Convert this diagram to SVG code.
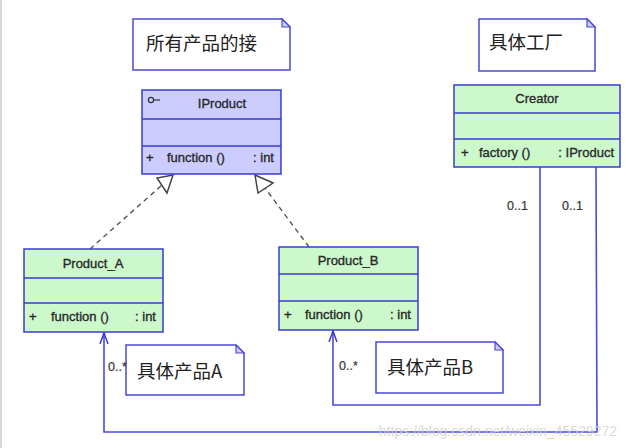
<svg xmlns="http://www.w3.org/2000/svg" width="626" height="448" viewBox="0 0 626 448">
<style>
.cls{fill:#ccf8cc;stroke:#3b3bd0;stroke-width:1.5}
.ifc{fill:#ccccff;stroke:#3b3bd0;stroke-width:1.5}
.note{fill:#ffffff;stroke:#4a4ad0;stroke-width:1.5}
.fold{fill:#ccccff;stroke:#4a4ad0;stroke-width:1.2}
.t{font-family:"Liberation Sans",Arial,sans-serif;font-size:13px;fill:#2a2a2a;stroke:#2a2a2a;stroke-width:0.35}
.cjk{font-family:"Noto Sans CJK SC","Liberation Sans",sans-serif;font-size:18.5px;fill:#222}
.m{font-family:"Liberation Sans",Arial,sans-serif;font-size:12.5px;fill:#333;stroke:#333;stroke-width:0.2}
.conn{fill:none;stroke:#4a4ae0;stroke-width:1.6}
.dash{fill:none;stroke:#555;stroke-width:1.4;stroke-dasharray:5,4}
.tri{fill:#ffffff;stroke:#444;stroke-width:1.5}
</style>
<defs>
<marker id="open" viewBox="0 0 12 12" refX="11" refY="6" markerWidth="12" markerHeight="12" markerUnits="userSpaceOnUse" orient="auto">
<path d="M0,2 L11,6 L0,10" fill="none" stroke="#3333cc" stroke-width="1.4"/>
</marker>
</defs>
<rect x="0" y="0" width="626" height="448" fill="#ffffff"/>
<line x1="1" y1="0" x2="1" y2="448" stroke="#d8d8d8" stroke-width="2"/>

<g id="connectors">
<path class="conn" d="M596,167 L597,432 L104,432 L104,333" marker-end="url(#open)"/>
<path class="conn" d="M540,167 L540,405 L333,405 L333,331" marker-end="url(#open)"/>
<line class="dash" x1="90" y1="249" x2="162" y2="185"/>
<polygon class="tri" points="173,175 157,178 167,193"/>
<line class="dash" x1="309" y1="247" x2="265" y2="188"/>
<polygon class="tri" points="255,175 273,183 258,193"/>
</g>

<g id="note-interface">
<path class="note" d="M133,19 L282,19 L290,27 L290,70 L133,70 Z"/>
<path class="fold" d="M282,19 L282,27 L290,27 Z"/>
<text class="cjk" x="146" y="50">所有产品的接</text>
</g>

<g id="note-factory">
<path class="note" d="M479,19 L587,19 L595,27 L595,71 L479,71 Z"/>
<path class="fold" d="M587,19 L587,27 L595,27 Z"/>
<text class="cjk" x="489" y="49">具体工厂</text>
</g>

<g id="IProduct">
<rect class="ifc" x="142" y="90" width="139" height="84"/>
<line class="ifc" x1="142" y1="119" x2="281" y2="119"/>
<line class="ifc" x1="142" y1="146" x2="281" y2="146"/>
<circle cx="151" cy="100" r="2.6" fill="none" stroke="#333" stroke-width="1.2"/>
<line x1="153.6" y1="100" x2="160" y2="100" stroke="#333" stroke-width="1.2"/>
<text class="t" x="222" y="108" text-anchor="middle">IProduct</text>
<text class="t" x="146" y="162">+</text>
<text class="t" x="167" y="162">function ()</text>
<text class="t" x="274" y="162" text-anchor="end">: int</text>
</g>

<g id="Creator">
<rect class="cls" x="454" y="85" width="166" height="82"/>
<line class="cls" x1="454" y1="113" x2="620" y2="113"/>
<line class="cls" x1="454" y1="139" x2="620" y2="139"/>
<text class="t" x="537" y="103" text-anchor="middle">Creator</text>
<text class="t" x="461" y="157">+</text>
<text class="t" x="479" y="157">factory ()</text>
<text class="t" x="614" y="157" text-anchor="end">: IProduct</text>
</g>

<g id="Product_A">
<rect class="cls" x="24" y="249" width="139" height="83"/>
<line class="cls" x1="24" y1="278" x2="163" y2="278"/>
<line class="cls" x1="24" y1="303" x2="163" y2="303"/>
<text class="t" x="93" y="268" text-anchor="middle">Product_A</text>
<text class="t" x="29" y="321">+</text>
<text class="t" x="51" y="321">function ()</text>
<text class="t" x="156" y="321" text-anchor="end">: int</text>
</g>

<g id="Product_B">
<rect class="cls" x="279" y="247" width="139" height="83"/>
<line class="cls" x1="279" y1="274" x2="418" y2="274"/>
<line class="cls" x1="279" y1="301" x2="418" y2="301"/>
<text class="t" x="348" y="265" text-anchor="middle">Product_B</text>
<text class="t" x="284" y="319">+</text>
<text class="t" x="305" y="319">function ()</text>
<text class="t" x="411" y="319" text-anchor="end">: int</text>
</g>

<g id="note-A">
<path class="note" d="M126,345 L236,345 L244,353 L244,395 L126,395 Z"/>
<path class="fold" d="M236,345 L236,353 L244,353 Z"/>
<text class="cjk" x="137" y="378">具体产品A</text>
</g>

<g id="note-B">
<path class="note" d="M376,342 L495,342 L503,350 L503,393 L376,393 Z"/>
<path class="fold" d="M495,342 L495,350 L503,350 Z"/>
<text class="cjk" x="387" y="374">具体产品B</text>
</g>

<g id="labels">
<text class="m" x="507" y="210">0..1</text>
<text class="m" x="562" y="210">0..1</text>
<text class="m" x="108" y="371">0..*</text>
<text class="m" x="339" y="370">0..*</text>
</g>

<text x="617" y="436" text-anchor="end" font-family="Liberation Sans,Arial,sans-serif" font-size="14" fill="#d0d0d0" fill-opacity="0.8">https://blog.csdn.net/weixin_45529272</text>
</svg>
